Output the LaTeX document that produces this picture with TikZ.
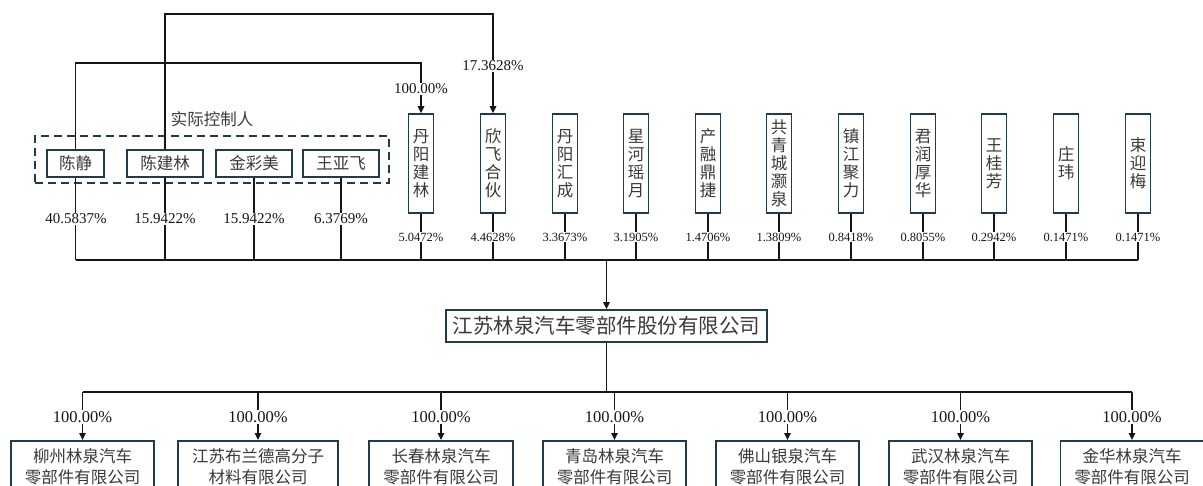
\documentclass[tikz,border=0pt]{standalone}
\usepackage{fontspec}
\setmainfont{Liberation Serif}
\newfontfamily\cjk{Noto Sans CJK SC}
\usetikzlibrary{arrows.meta}
\definecolor{bx}{HTML}{1F3B4C}
\definecolor{tx}{HTML}{3A3A3A}
\definecolor{ln}{HTML}{161616}
\tikzset{
  pbox/.style={draw=bx, line width=1.6pt, fill=white, inner sep=0pt, minimum height=27pt,
    font=\cjk\fontsize{16.5}{20}\selectfont, text=tx},
  vbox/.style={pbox, minimum width=25pt, minimum height=99pt, align=center,
    font=\cjk\fontsize{16.5}{18}\selectfont},
  sbox/.style={pbox, minimum width=143pt, minimum height=52pt, anchor=north, align=center,
    font=\cjk\fontsize{16.5}{21}\selectfont},
  conn/.style={draw=ln, line width=1.6pt},
  arr/.style={conn, -{Triangle[length=7pt,width=6.5pt]}},
  pct/.style={fill=white, inner sep=1.2pt, font=\fontsize{15}{15}\selectfont, text=ln},
  spct/.style={pct, font=\fontsize{12.5}{12.5}\selectfont},
  bpct/.style={pct, font=\fontsize{16.5}{16.5}\selectfont},
}
\begin{document}
\begin{tikzpicture}[x=1pt,y=-1pt]
\useasboundingbox (0,0) rectangle (1203,485);
\clip (0,0) rectangle (1203,485);

% controller group
\node[draw=bx, dashed, dash pattern=on 8pt off 5pt, line width=1.5pt, minimum width=354pt, minimum height=47pt, inner sep=0pt] (ctrl) at (212,159.5) {};
\node[font=\cjk\fontsize{16.5}{20}\selectfont, text=tx] (ctrlL) at (212,119) {实际控制人};

% persons
\node[pbox, minimum width=57pt] (p1) at (75.5,163.5) {陈静};
\node[pbox, minimum width=76pt] (p2) at (165,163.5) {陈建林};
\node[pbox, minimum width=76pt] (p3) at (254,163.5) {金彩美};
\node[pbox, minimum width=76pt] (p4) at (341,163.5) {王亚飞};

% vertical shareholders
\node[vbox] (v1) at (421,163.5) {丹\\阳\\建\\林};
\node[vbox] (v2) at (493,163.5) {欣\\飞\\合\\伙};
\node[vbox] (v3) at (565,163.5) {丹\\阳\\汇\\成};
\node[vbox] (v4) at (636,163.5) {星\\河\\瑶\\月};
\node[vbox] (v5) at (708,163.5) {产\\融\\鼎\\捷};
\node[vbox] (v6) at (779,163.5) {共\\青\\城\\灏\\泉};
\node[vbox] (v7) at (851,163.5) {镇\\江\\聚\\力};
\node[vbox] (v8) at (923,163.5) {君\\润\\厚\\华};
\node[vbox] (v9) at (994,163.5) {王\\桂\\芳};
\node[vbox] (v10) at (1066,163.5) {庄\\玮};
\node[vbox] (v11) at (1138,163.5) {束\\迎\\梅};

% main company
\node[pbox, minimum width=321pt, minimum height=32pt, font=\cjk\fontsize{20.5}{24}\selectfont] (main) at (606.5,326) {江苏林泉汽车零部件股份有限公司};

% subsidiaries
\node[sbox] (s1) at (82.5,440) {柳州林泉汽车\\零部件有限公司};
\node[sbox, minimum width=160pt] (s2) at (258,440) {江苏布兰德高分子\\材料有限公司};
\node[sbox, minimum width=144pt] (s3) at (441,440) {长春林泉汽车\\零部件有限公司};
\node[sbox] (s4) at (614.5,440) {青岛林泉汽车\\零部件有限公司};
\node[sbox] (s5) at (787.5,440) {佛山银泉汽车\\零部件有限公司};
\node[sbox] (s6) at (960.5,440) {武汉林泉汽车\\零部件有限公司};
\node[sbox] (s7) at (1132,440) {金华林泉汽车\\零部件有限公司};

% coordinates for routing
\coordinate (topA) at (493,14);
\coordinate (topB) at (421,63);
\coordinate (bus) at (0,260);
\coordinate (bus2) at (0,392);

% control lines over the top
\draw[arr] (p2.north) |- (topA) -- (v2.north);
\draw[arr] (p1.north) |- (topB) -- (v1.north);

% stems to upper bus
\foreach \n in {p1,p2,p3,p4,v1,v2,v3,v4,v5,v6,v7,v8,v9,v10,v11}
  \draw[conn] (\n.south) -- (\n.south |- bus);
\draw[conn] (p1.south |- bus) -- (v11.south |- bus);
\draw[arr] (main.north |- bus) -- (main.north);

% lower bus
\draw[conn] (main.south) -- (main.south |- bus2);
\draw[conn] (s1.north |- bus2) -- (s7.north |- bus2);
\foreach \n in {s1,s2,s3,s4,s5,s6,s7}
  \draw[arr] (\n.north |- bus2) -- (\n.north);

% percentage labels
\node[pct] (lA) at (493,66) {17.3628\%};
\node[pct] (lB) at (421,89) {100.00\%};

\node[pct] (q1) at (76,219) {40.5837\%};
\node[pct] (q2) at (165,219) {15.9422\%};
\node[pct] (q3) at (254,219) {15.9422\%};
\node[pct] (q4) at (341,219) {6.3769\%};

\node[spct] (r1) at (421,237) {5.0472\%};
\node[spct] (r2) at (493,237) {4.4628\%};
\node[spct] (r3) at (565,237) {3.3673\%};
\node[spct] (r4) at (636,237) {3.1905\%};
\node[spct] (r5) at (708,237) {1.4706\%};
\node[spct] (r6) at (779,237) {1.3809\%};
\node[spct] (r7) at (851,237) {0.8418\%};
\node[spct] (r8) at (923,237) {0.8055\%};
\node[spct] (r9) at (994,237) {0.2942\%};
\node[spct] (r10) at (1066,237) {0.1471\%};
\node[spct] (r11) at (1138,237) {0.1471\%};

\foreach \n/\i in {s1/1,s2/2,s3/3,s4/4,s5/5,s6/6,s7/7}
  \node[bpct] (t\i) at (\n.north |- 0,417) {100.00\%};
\end{tikzpicture}
\end{document}
